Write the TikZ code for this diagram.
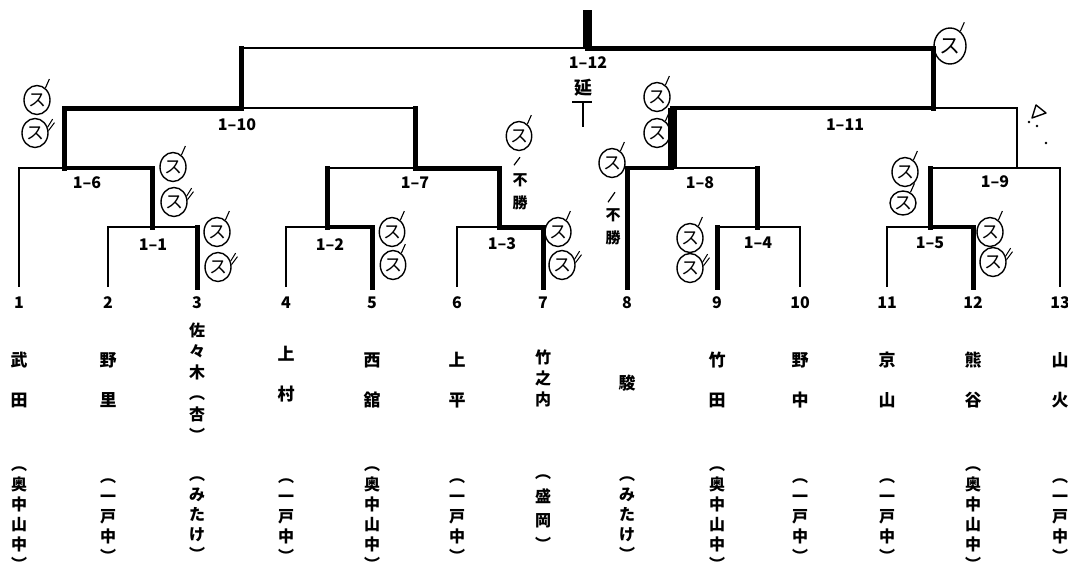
\documentclass[tikz,border=0pt]{standalone}
\usepackage{fontspec}
\setmainfont{Noto Sans CJK JP}
\usepackage{tikz}
\usetikzlibrary{shapes.geometric}

\tikzset{
  bracket/.style={line width=1.9pt},
  winline/.style={line width=5pt, line cap=rect},
  winmid/.style={line width=3.4pt, line cap=rect},
  winheavy/.style={line width=9pt},
  matchno/.style={font=\bfseries\fontsize{16}{16}\selectfont},
  seedno/.style={font=\bfseries\fontsize{16}{16}\selectfont},
  namewide/.style={align=center, inner sep=0pt, font=\bfseries\fontsize{17}{40}\selectfont},
  namenarrow/.style={align=center, inner sep=0pt, font=\bfseries\fontsize{16}{21}\selectfont},
  school/.style={align=center, inner sep=0pt, font=\bfseries\fontsize{16}{20}\selectfont},
  sumark/.style={ellipse, draw, line width=1.4pt, inner sep=0pt, minimum width=26pt,
    minimum height=29pt, font=\fontsize{18}{18}\selectfont,
    append after command={(\tikzlastnode.55) edge[line width=1.1pt] +(4,-9)}},
  sumarkb/.style={ellipse, draw, line width=1.4pt, inner sep=0pt, minimum width=26pt,
    minimum height=29pt, font=\fontsize{18}{18}\selectfont,
    append after command={(\tikzlastnode.25) edge[line width=1pt] +(5,-8)
      (\tikzlastnode.10) edge[line width=1pt] +(6,-8)}},
  note/.style={align=center, inner sep=0pt, font=\bfseries\fontsize{15}{23}\selectfont},
}

\begin{document}
\begin{tikzpicture}[x=1pt, y=-1pt]
  \useasboundingbox (0,0) rectangle (1068,579);

  % bottom ends of the players
  \coordinate (p1) at (19,287);
  \coordinate (p2) at (108,287);
  \coordinate (p3) at (197,287);
  \coordinate (p4) at (286,287);
  \coordinate (p5) at (372,287);
  \coordinate (p6) at (457,287);
  \coordinate (p7) at (543,287);
  \coordinate (p8) at (627,287);
  \coordinate (p9) at (717,287);
  \coordinate (p10) at (800,287);
  \coordinate (p11) at (887,287);
  \coordinate (p12) at (973,287);
  \coordinate (p13) at (1060,287);

  % where each match goes up
  \coordinate (u11) at (152,227);
  \coordinate (u12) at (327,227);
  \coordinate (u13) at (499,227);
  \coordinate (u14) at (757,227);
  \coordinate (u15) at (930,227);
  \coordinate (u16) at (64,168);
  \coordinate (u17) at (415,168);
  \coordinate (u18) at (672,168);
  \coordinate (u19) at (1017,168);
  \coordinate (u110) at (241,108);
  \coordinate (u111) at (933,108);
  \coordinate (u112) at (587,48);
  \coordinate (champ) at (587,10);

  % bracket
  \draw[bracket] (p2) |- (u11) -| (p3);
  \draw[bracket] (p4) |- (u12) -| (p5);
  \draw[bracket] (p6) |- (u13) -| (p7);
  \draw[bracket] (p9) |- (u14) -| (p10);
  \draw[bracket] (p11) |- (u15) -| (p12);
  \draw[bracket] (p1) |- (u16) -| (u11);
  \draw[bracket] (u12) |- (u17) -| (u13);
  \draw[bracket] (p8) |- (u18) -| (u14);
  \draw[bracket] (u15) |- (u19) -| (p13);
  \draw[bracket] (u16) |- (u110) -| (u17);
  \draw[bracket] (u18) |- (u111) -| (u19);
  \draw[bracket] (u110) |- (u112) -| (u111);

  % winners, left half
  \draw[winline] (p3) -- (p3 |- u11);
  \draw[winline] (u11) -- (u11 |- u16);
  \draw[winmid] (u11 |- u16) -- (u16);
  \draw[winline] (u16) -- (u16 |- u110) -- (u110) -- (u110 |- u112);
  \draw[winline] (p5) -- (p5 |- u12);
  \draw[winmid] (p5 |- u12) -- (u12);
  \draw[winline] (u12) -- (u12 |- u17);
  \draw[winline] (p7) -- (p7 |- u13) -- (u13) -- (u13 |- u17) -- (u17) -- (u17 |- u110);

  % winners, right half
  \draw[winline] (p8) -- (p8 |- u18);
  \draw[winmid] (p8 |- u18) -- (u18);
  \draw[winheavy] (u18) -- (u18 |- u111);
  \draw[winmid] (u18 |- u111) -- (u111);
  \draw[winline] (u111) -- (u111 |- u112) -- (u112);
  \draw[winheavy] (u112) -- (champ);
  \draw[winline] (p9) -- (p9 |- u14);
  \draw[winline] (u14) -- (u14 |- u18);
  \draw[winline] (p12) -- (p12 |- u15);
  \draw[winmid] (p12 |- u15) -- (u15);
  \draw[winline] (u15) -- (u15 |- u19);

  % match numbers
  \node[matchno] (m1) at (153,245) {1–1};
  \node[matchno] (m2) at (330,245) {1–2};
  \node[matchno] (m3) at (502,244) {1–3};
  \node[matchno] (m4) at (758,243) {1–4};
  \node[matchno] (m5) at (930,243) {1–5};
  \node[matchno] (m6) at (87,183) {1–6};
  \node[matchno] (m7) at (415,183) {1–7};
  \node[matchno] (m8) at (700,183) {1–8};
  \node[matchno] (m9) at (995,182) {1–9};
  \node[matchno] (m10) at (237,125) {1–10};
  \node[matchno] (m11) at (845,125) {1–11};
  \node[matchno] (m12) at (588,63) {1–12};

  % seeds
  \node[seedno] (s1) at (19,303) {1};
  \node[seedno] (s2) at (108,303) {2};
  \node[seedno] (s3) at (197,303) {3};
  \node[seedno] (s4) at (286,303) {4};
  \node[seedno] (s5) at (372,303) {5};
  \node[seedno] (s6) at (457,303) {6};
  \node[seedno] (s7) at (543,303) {7};
  \node[seedno] (s8) at (627,303) {8};
  \node[seedno] (s9) at (717,303) {9};
  \node[seedno] (s10) at (800,303) {10};
  \node[seedno] (s11) at (887,303) {11};
  \node[seedno] (s12) at (973,303) {12};
  \node[seedno] (s13) at (1060,303) {13};

  % names
  \node[namewide] (n1) at (19,380) {武\\田};
  \node[namewide] (n2) at (108,380) {野\\里};
  \node[namenarrow] (n3) at (197,382) {佐\\々\\木\\︵\\杏\\︶};
  \node[namewide] (n4) at (286,374) {上\\村};
  \node[namewide] (n5) at (372,380) {西\\舘};
  \node[namewide] (n6) at (457,380) {上\\平};
  \node[namenarrow] (n7) at (543,378) {竹\\之\\内};
  \node[namewide] (n8) at (627,383) {駿};
  \node[namewide] (n9) at (717,380) {竹\\田};
  \node[namewide] (n10) at (800,380) {野\\中};
  \node[namewide] (n11) at (887,380) {京\\山};
  \node[namewide] (n12) at (973,380) {熊\\谷};
  \node[namewide] (n13) at (1060,380) {山\\火};

  % schools
  \node[school] (c1) at (19,519) {︵\\奥\\中\\山\\中\\︶};
  \node[school] (c2) at (108,521) {︵\\一\\戸\\中\\︶};
  \node[school] (c3) at (197,519) {︵\\み\\た\\け\\︶};
  \node[school] (c4) at (286,521) {︵\\一\\戸\\中\\︶};
  \node[school] (c5) at (372,519) {︵\\奥\\中\\山\\中\\︶};
  \node[school] (c6) at (457,521) {︵\\一\\戸\\中\\︶};
  \node[school, font=\bfseries\fontsize{16}{24}\selectfont] (c7) at (543,513) {︵\\盛\\岡\\︶};
  \node[school] (c8) at (627,519) {︵\\み\\た\\け\\︶};
  \node[school] (c9) at (717,519) {︵\\奥\\中\\山\\中\\︶};
  \node[school] (c10) at (800,521) {︵\\一\\戸\\中\\︶};
  \node[school] (c11) at (887,521) {︵\\一\\戸\\中\\︶};
  \node[school] (c12) at (973,519) {︵\\奥\\中\\山\\中\\︶};
  \node[school] (c13) at (1060,521) {︵\\一\\戸\\中\\︶};

  % handwritten marks
  \node[sumark] (a1) at (37,100) {ス};
  \node[sumarkb] (a2) at (35,133) {ス};
  \node[sumark] (a3) at (173,167) {ス};
  \node[sumarkb] (a4) at (174,202) {ス};
  \node[sumark] (a5) at (217,232) {ス};
  \node[sumarkb] (a6) at (218,267) {ス};
  \node[sumark, minimum width=22pt] (a7) at (392,232) {ス};
  \node[sumark, minimum width=22pt] (a8) at (393,265) {ス};
  \node[sumark] (a9) at (558,232) {ス};
  \node[sumarkb] (a10) at (562,265) {ス};
  \node[sumark, minimum width=22pt] (a11) at (519,136) {ス};
  \node[note] (f1) at (520,192) {不\\勝};
  \draw[line width=1.2pt] (a11.south) ++(1,6) -- ++(-6,8);
  \node[sumark] (a12) at (612,163) {ス};
  \node[note] (f2) at (613,227) {不\\勝};
  \draw[line width=1.2pt] (a12.south) ++(3,14) -- ++(-7,10);
  \node[sumark] (a13) at (657,97) {ス};
  \node[sumark] (a14) at (657,133) {ス};
  \node[sumark] (a15) at (690,238) {ス};
  \node[sumarkb] (a16) at (690,268) {ス};
  \node[sumark] (a17) at (905,172) {ス};
  \node[sumark, minimum height=24pt] (a18) at (903,203) {ス};
  \node[sumark] (a19) at (990,232) {ス};
  \node[sumarkb] (a20) at (993,262) {ス};
  \node[sumark, minimum width=32pt, minimum height=36pt, font=\fontsize{21}{21}\selectfont] (a21) at (950,46) {ス};

  % extension mark under 1-12
  \node[font=\bfseries\fontsize{18}{18}\selectfont] (ext) at (583,88) {延};
  \draw[line width=1.6pt] (ext.south west) ++(2,2) -- ++(20,0);
  \draw[line width=1.6pt] (ext.south) ++(0,2) -- ++(0,25);

  % small triangle near 1-11
  \coordinate (tri) at (1038,112);
  \draw[line width=1.4pt, line join=round] (tri) ++(-6,6) -- ++(14,-5) -- ++(-10,-8) -- cycle;
  \fill (1029,122) circle (1.3pt) (1037,126) circle (1.3pt) (1046,143) circle (1.3pt);
\end{tikzpicture}
\end{document}
